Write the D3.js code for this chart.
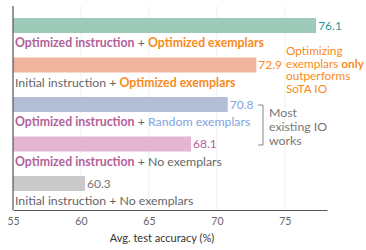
<!DOCTYPE html>
<html>
<head>
<meta charset="utf-8">
<script src="https://cdn.jsdelivr.net/npm/d3@7"></script>
<style>
  body { margin: 0; background: #fff; }
  svg { font-family: Lato, Roboto, sans-serif; }
</style>
</head>
<body>
<div id="chart"></div>
<script>
// data, top to bottom
const instructions = ["Optimized instruction", "Initial instruction", "Optimized instruction", "Optimized instruction", "Initial instruction"];
const exemplars = ["Optimized exemplars", "Optimized exemplars", "Random exemplars", "No exemplars", "No exemplars"];
const accuracy = [77.3, 72.9, 70.8, 68.1, 60.3]; // bar lengths as drawn
const accLabels = ["76.1", "72.9", "70.8", "68.1", "60.3"];
const xTicks = [55, 60, 65, 70, 75];
const barColors = ["#9dcbb9", "#f0b39d", "#b4bed6", "#e4b4d2", "#c9c9c9"];
const valColors = ["#1f9e9a", "#f98a1b", "#7fa3e2", "#b8609c", "#777"];

const width = 366, height = 250;
const margin = {top: 6, left: 13, bottom: 40};
const rows = d3.range(accuracy.length);
const fs = 12.3;

const svg = d3.select("#chart").append("svg")
  .attr("width", width).attr("height", height);

const x = d3.scaleLinear().domain([55, 78.1]).range([13, 327]);
const y = d3.scaleBand().domain(rows).range([18 - 12, 18 - 12 + 39.5 * 5]).paddingInner(0); // step 39.5

// grid
svg.append("g").selectAll("line").data(xTicks.slice(1)).join("line")
  .attr("x1", d => x(d)).attr("x2", d => x(d))
  .attr("y1", margin.top).attr("y2", 210)
  .attr("stroke", "#f0f0f0");

// bars
svg.append("g").selectAll("rect").data(rows).join("rect")
  .attr("x", x(55))
  .attr("y", i => y(i) + 12)
  .attr("width", i => x(accuracy[i]) - x(55))
  .attr("height", 15)
  .attr("fill", (i) => barColors[i]);

// value labels
svg.append("g").selectAll("text").data(rows).join("text")
  .attr("x", i => x(accuracy[i]) + 2)
  .attr("y", i => y(i) + 12 + 7.5)
  .attr("dy", "0.35em")
  .attr("font-size", 12)
  .attr("fill", i => valColors[i])
  .text(i => accLabels[i]);

// category labels
const styleInstr = s => s.startsWith("Optimized") ? {fill: "#b35f9b", weight: 700} : {fill: "#666", weight: 400};
const styleEx = s => s.startsWith("Optimized") ? {fill: "#f98a1b", weight: 700}
  : s.startsWith("Random") ? {fill: "#7fa3e2", weight: 400} : {fill: "#666", weight: 400};

const cat = svg.append("g").selectAll("text").data(rows).join("text")
  .attr("x", 15)
  .attr("y", i => y(i) + 12 + 7.5 + 21.5)
  .attr("font-size", fs);
cat.append("tspan")
  .text(i => instructions[i])
  .attr("fill", i => styleInstr(instructions[i]).fill)
  .attr("font-weight", i => styleInstr(instructions[i]).weight);
cat.append("tspan").text(" + ").attr("fill", "#666");
cat.append("tspan")
  .text(i => exemplars[i])
  .attr("fill", i => styleEx(exemplars[i]).fill)
  .attr("font-weight", i => styleEx(exemplars[i]).weight);

// axes
svg.append("line").attr("x1", 13).attr("x2", 13).attr("y1", margin.top).attr("y2", 210).attr("stroke", "#555").attr("stroke-width", 1.2);
const xAxis = svg.append("g").attr("transform", "translate(0,210)")
  .call(d3.axisBottom(x).tickValues(xTicks).tickSize(0).tickPadding(8));
xAxis.select(".domain").attr("stroke", "#555").attr("stroke-width", 1.2);
xAxis.selectAll("text").attr("fill", "#666").attr("font-size", 10.5).attr("font-family", "Lato, sans-serif");

svg.append("text").attr("x", 162).attr("y", 242).attr("text-anchor", "middle")
  .attr("font-size", 11).attr("fill", "#333").text("Avg. test accuracy (%)");

// annotation: orange
const note = svg.append("text").attr("font-size", 11.8).attr("fill", "#f98a1b");
const noteLines = [["Optimizing"], ["exemplars ", "only"], ["outperforms"], ["SoTA IO"]];
noteLines.forEach((ln, k) => {
  ln.forEach((w, j) => {
    const t = note.append("tspan").text(w);
    if (j === 0) t.attr("x", 286).attr("y", 55 + k * 12.7);
    if (w === "only") t.attr("font-weight", 700);
  });
});

// annotation: bracket
svg.append("path")
  .attr("d", "M258,105H263V145H258")
  .attr("fill", "none").attr("stroke", "#888").attr("stroke-width", 1);
const note2 = svg.append("text").attr("font-size", fs).attr("fill", "#777");
["Most", "existing IO", "works"].forEach((w, k) => {
  note2.append("tspan").attr("x", 269).attr("y", 117 + k * 14).text(w);
});
</script>
</body>
</html>
